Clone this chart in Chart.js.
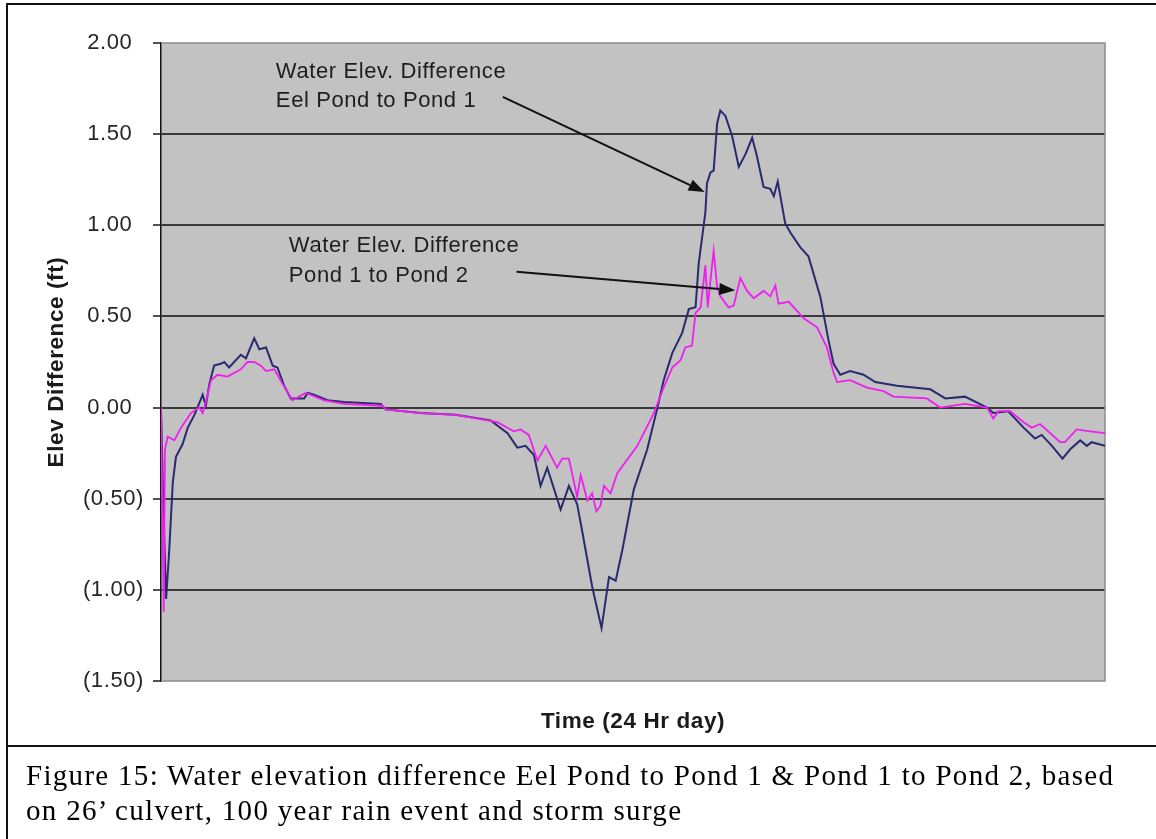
<!DOCTYPE html>
<html>
<head>
<meta charset="utf-8">
<script src="https://cdn.jsdelivr.net/npm/chart.js@4.4.1/dist/chart.umd.min.js"></script>
<style>
html,body{margin:0;padding:0;background:#fff;}
body{width:1156px;height:839px;position:relative;overflow:hidden;}
#c{position:absolute;left:0;top:0;}
#frameL{position:absolute;left:6px;top:3px;width:2px;height:836px;background:#111;}
#frameT{position:absolute;left:6px;top:3px;width:1150px;height:2px;background:#111;}
#sep{position:absolute;left:6px;top:745px;width:1150px;height:2px;background:#111;}
#cap{position:absolute;left:26px;top:758px;font-family:"Liberation Serif","Times New Roman",serif;font-size:29px;line-height:35px;letter-spacing:1.3px;color:#000;white-space:nowrap;}
</style>
</head>
<body>
<canvas id="c" width="1156" height="839"></canvas>
<div id="frameL"></div>
<div id="frameT"></div>
<div id="sep"></div>
<div id="cap">Figure 15: Water elevation difference Eel Pond to Pond 1 &amp; Pond 1 to Pond 2, based<br>on 26’ culvert, 100 year rain event and storm surge</div>
<script>
// ---- data (time in hours of the 24 hr day, elevation difference in ft) ----
const eelTime = [0.00,0.06,0.13,0.21,0.30,0.38,0.55,0.68,0.85,1.06,1.14,1.23,1.35,1.52,1.61,1.73,2.03,2.16,2.37,2.50,2.67,2.84,2.96,3.13,3.30,3.64,3.73,3.89,4.23,4.66,5.59,5.71,6.60,7.49,8.38,8.81,9.06,9.27,9.48,9.65,9.82,10.16,10.37,10.58,10.71,10.96,11.20,11.39,11.56,11.73,12.02,12.36,12.61,12.78,13.00,13.25,13.42,13.59,13.67,13.84,13.88,13.97,14.05,14.14,14.22,14.35,14.52,14.69,14.86,15.03,15.15,15.32,15.49,15.58,15.68,15.87,16.00,16.25,16.46,16.76,16.97,17.10,17.27,17.52,17.86,18.16,18.71,19.56,19.94,20.44,21.00,21.16,21.54,21.93,22.22,22.39,22.65,22.92,23.11,23.37,23.54,23.66,24.00];
const eelDiff = [0.00,-0.55,-1.05,-0.78,-0.41,-0.27,-0.20,-0.11,-0.04,0.07,0.01,0.13,0.23,0.24,0.25,0.22,0.29,0.27,0.38,0.32,0.33,0.23,0.22,0.12,0.05,0.05,0.08,0.07,0.04,0.03,0.02,-0.01,-0.03,-0.04,-0.07,-0.14,-0.22,-0.21,-0.26,-0.43,-0.33,-0.56,-0.43,-0.53,-0.68,-0.98,-1.21,-0.93,-0.95,-0.78,-0.45,-0.23,-0.01,0.15,0.30,0.41,0.54,0.55,0.79,1.07,1.23,1.29,1.30,1.56,1.63,1.60,1.49,1.32,1.39,1.48,1.38,1.21,1.20,1.16,1.24,1.01,0.96,0.88,0.83,0.61,0.37,0.24,0.18,0.20,0.18,0.14,0.12,0.10,0.05,0.06,0.00,-0.03,-0.02,-0.11,-0.17,-0.15,-0.21,-0.28,-0.23,-0.18,-0.21,-0.19,-0.21];

const pondTime = [0.00,0.07,0.10,0.17,0.34,0.51,0.76,0.97,1.06,1.14,1.27,1.44,1.69,2.03,2.20,2.37,2.54,2.67,2.88,3.09,3.34,3.68,4.15,4.66,5.63,5.71,6.60,7.49,8.55,8.97,9.14,9.35,9.57,9.78,10.07,10.20,10.37,10.58,10.67,10.84,10.96,11.07,11.17,11.26,11.43,11.60,12.11,12.53,12.78,13.00,13.21,13.33,13.50,13.59,13.72,13.84,13.90,13.97,14.05,14.14,14.22,14.43,14.56,14.73,14.90,15.07,15.32,15.49,15.62,15.70,15.96,16.34,16.68,16.93,17.10,17.19,17.52,17.95,18.37,18.62,19.47,19.81,20.44,21.00,21.16,21.29,21.59,21.93,22.14,22.35,22.86,22.98,23.28,23.62,24.00];
const pondDiff = [0.00,-1.12,-0.23,-0.16,-0.18,-0.11,-0.03,0.00,-0.03,0.03,0.15,0.18,0.17,0.21,0.25,0.25,0.23,0.20,0.21,0.13,0.04,0.08,0.04,0.02,0.01,-0.01,-0.03,-0.04,-0.08,-0.13,-0.12,-0.15,-0.29,-0.21,-0.33,-0.28,-0.28,-0.49,-0.37,-0.51,-0.47,-0.57,-0.54,-0.43,-0.47,-0.36,-0.21,-0.03,0.11,0.22,0.26,0.33,0.34,0.52,0.55,0.78,0.55,0.70,0.86,0.66,0.61,0.55,0.56,0.71,0.64,0.60,0.64,0.61,0.67,0.57,0.58,0.49,0.44,0.33,0.19,0.14,0.15,0.11,0.09,0.06,0.05,0.00,0.02,0.00,-0.06,-0.02,-0.02,-0.08,-0.11,-0.09,-0.19,-0.19,-0.12,-0.13,-0.14];

const yTickValues = [2, 1.5, 1, 0.5, 0, -0.5, -1, -1.5];
const yTickLabels = ['2.00\u2002','1.50\u2002','1.00\u2002','0.50\u2002','0.00\u2002','(0.50)','(1.00)','(1.50)'];

const noteEel = ['Water Elev. Difference', 'Eel Pond to Pond 1'];
const notePond = ['Water Elev. Difference', 'Pond 1 to Pond 2'];

const SANS = '"Liberation Sans", Arial, sans-serif';
const LS = '0.6px';

function toPoints(xs, ys) { return xs.map((t, i) => ({x: t, y: ys[i]})); }

const spacing = {
  id: 'spacing',
  beforeUpdate(chart) { chart.ctx.letterSpacing = LS; },
  beforeLayout(chart) { chart.ctx.letterSpacing = LS; },
  beforeDraw(chart) {
    const {ctx, chartArea: a} = chart;
    ctx.letterSpacing = LS;
    ctx.save();
    ctx.fillStyle = '#c2c2c2';
    ctx.fillRect(a.left, a.top, a.right - a.left, a.bottom - a.top);
    ctx.restore();
  },
  beforeDatasetsDraw(chart) {
    const {ctx, chartArea: a} = chart;
    ctx.save();
    ctx.strokeStyle = '#8c8c8c';
    ctx.lineWidth = 1.5;
    ctx.beginPath();
    ctx.moveTo(a.left, a.top);
    ctx.lineTo(a.right, a.top);
    ctx.lineTo(a.right, a.bottom);
    ctx.lineTo(a.left, a.bottom);
    ctx.stroke();
    ctx.restore();
  }
};

function arrow(ctx, x1, y1, x2, y2) {
  const ang = Math.atan2(y2 - y1, x2 - x1);
  const L = 16, W = 6;
  const bx = x2 - L * Math.cos(ang), by = y2 - L * Math.sin(ang);
  ctx.beginPath();
  ctx.moveTo(x1, y1);
  ctx.lineTo(bx, by);
  ctx.stroke();
  ctx.beginPath();
  ctx.moveTo(x2, y2);
  ctx.lineTo(bx + W * Math.sin(ang), by - W * Math.cos(ang));
  ctx.lineTo(bx - W * Math.sin(ang), by + W * Math.cos(ang));
  ctx.closePath();
  ctx.fill();
}

const notes = {
  id: 'notes',
  afterDraw(chart) {
    const {ctx, scales: {x, y}} = chart;
    ctx.save();
    ctx.letterSpacing = LS;
    ctx.font = '22px ' + SANS;
    ctx.fillStyle = '#1e1e1e';
    ctx.textAlign = 'left';
    ctx.textBaseline = 'middle';
    ctx.fillText(noteEel[0], x.getPixelForValue(2.92), y.getPixelForValue(1.84));
    ctx.fillText(noteEel[1], x.getPixelForValue(2.92), y.getPixelForValue(1.68));
    ctx.fillText(notePond[0], x.getPixelForValue(3.25), y.getPixelForValue(0.884));
    ctx.fillText(notePond[1], x.getPixelForValue(3.25), y.getPixelForValue(0.72));
    ctx.strokeStyle = '#111';
    ctx.fillStyle = '#111';
    ctx.lineWidth = 2;
    arrow(ctx, x.getPixelForValue(8.69), y.getPixelForValue(1.704), x.getPixelForValue(13.82), y.getPixelForValue(1.183));
    arrow(ctx, x.getPixelForValue(9.04), y.getPixelForValue(0.745), x.getPixelForValue(14.60), y.getPixelForValue(0.643));
    ctx.restore();
  }
};

new Chart(document.getElementById('c'), {
  type: 'line',
  data: {
    datasets: [
      {
        label: 'Pond 1 to Pond 2',
        data: toPoints(pondTime, pondDiff),
        borderColor: '#f01ef0',
        borderWidth: 1.8,
        pointRadius: 0,
        tension: 0,
        order: 0
      },
      {
        label: 'Eel Pond to Pond 1',
        data: toPoints(eelTime, eelDiff),
        borderColor: '#2a2a70',
        borderWidth: 2,
        pointRadius: 0,
        tension: 0,
        order: 1
      }
    ]
  },
  options: {
    responsive: false,
    animation: false,
    devicePixelRatio: 1,
    layout: {padding: {left: 39, top: 43, right: 51, bottom: 100}},
    plugins: {legend: {display: false}, tooltip: {enabled: false}, title: {display: false}},
    scales: {
      x: {
        type: 'linear',
        min: 0,
        max: 24,
        ticks: {display: false},
        grid: {display: false},
        border: {display: false},
        title: {display: true, text: 'Time (24 Hr day)', color: '#1a1a1a', font: {family: SANS, size: 22.5, weight: 'bold'}, padding: {top: 4, bottom: 4}},
        afterFit: s => { s.height = 58; }
      },
      y: {
        min: -1.5,
        max: 2,
        afterBuildTicks: s => { s.ticks = yTickValues.map(v => ({value: v})); },
        ticks: {
          autoSkip: false,
          color: '#262626',
          padding: 9,
          font: {family: SANS, size: 22},
          callback: v => { const i = yTickValues.indexOf(v); return i >= 0 ? yTickLabels[i] : ''; }
        },
        grid: {
          color: c => (c.tick && (c.tick.value === 2 || c.tick.value === -1.5)) ? 'rgba(0,0,0,0)' : '#3a3a3a',
          lineWidth: 2,
          tickColor: '#1a1a1a',
          tickWidth: 1.5,
          tickLength: 8
        },
        border: {display: true, color: '#111', width: 1.5},
        title: {display: true, text: 'Elev Difference (ft)', color: '#1a1a1a', font: {family: SANS, size: 22.5, weight: 'bold'}, padding: {top: 4, bottom: 4}},
        afterFit: s => { s.width = 122; }
      }
    }
  },
  plugins: [spacing, notes]
});
</script>
</body>
</html>
